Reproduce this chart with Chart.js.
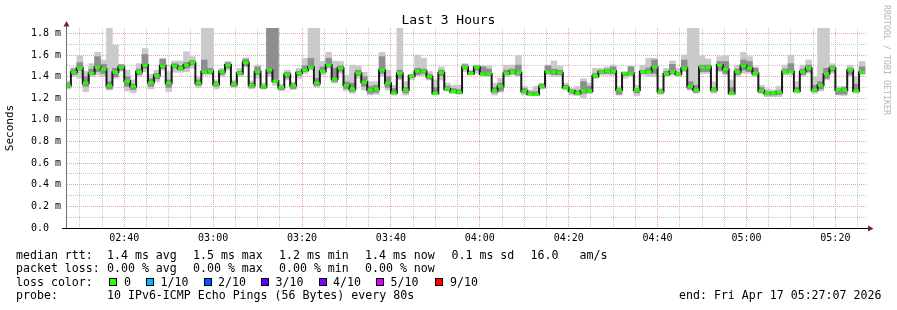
<!DOCTYPE html>
<html>
<head>
<meta charset="utf-8">
<script src="https://cdn.jsdelivr.net/npm/chart.js@4.4.1/dist/chart.umd.min.js"></script>
<style>
html,body{margin:0;padding:0;background:#fff;}
#wrap{position:relative;width:897px;height:310px;overflow:hidden;background:#fff;font-family:'DejaVu Sans Mono',monospace;}
#c{position:absolute;left:0;top:0;}
.t{position:absolute;white-space:pre;font-size:11.6px;line-height:14px;color:#000;font-family:'DejaVu Sans Mono',monospace;}
.box{position:absolute;width:6px;height:6px;border:1px solid #000;top:277.5px;}
#title{position:absolute;left:0;top:11.5px;width:897px;text-align:center;font-size:13px;line-height:16px;color:#000;font-family:'DejaVu Sans Mono',monospace;}
#wm{position:absolute;left:892px;top:5px;transform-origin:0 0;transform:rotate(90deg);font-size:8.3px;line-height:10px;color:#b4b4b4;white-space:pre;font-family:'DejaVu Sans Mono',monospace;}
</style>
</head>
<body>
<div id="wrap">
<canvas id="c" width="897" height="310"></canvas>
<div id="title">Last 3 Hours</div>
<div id="wm">RRDTOOL / TOBI OETIKER</div>

<div class="t" style="left:16px;top:247.5px">median rtt:</div>
<div class="t" style="left:107px;top:247.5px">1.4 ms avg</div>
<div class="t" style="left:193px;top:247.5px">1.5 ms max</div>
<div class="t" style="left:279px;top:247.5px">1.2 ms min</div>
<div class="t" style="left:365px;top:247.5px">1.4 ms now</div>
<div class="t" style="left:451.5px;top:247.5px">0.1 ms sd</div>
<div class="t" style="left:530.5px;top:247.5px">16.0</div>
<div class="t" style="left:579.5px;top:247.5px">am/s</div>

<div class="t" style="left:16px;top:261px">packet loss:</div>
<div class="t" style="left:107px;top:261px">0.00 % avg</div>
<div class="t" style="left:193px;top:261px">0.00 % max</div>
<div class="t" style="left:279px;top:261px">0.00 % min</div>
<div class="t" style="left:365px;top:261px">0.00 % now</div>

<div class="t" style="left:16px;top:274.5px">loss color:</div>
<div id="lossLegend"></div>

<div class="t" style="left:16px;top:288px">probe:</div>
<div class="t" style="left:107px;top:288px">10 IPv6-ICMP Echo Pings (56 Bytes) every 80s</div>
<div class="t" style="left:679px;top:288px">end: Fri Apr 17 05:27:07 2026</div>
</div>

<script>
// ---- time frame (seconds of day) ----
const END_TIME = 19627;          // 05:27:07
const SPAN = 10800;              // last 3 hours
const STEP = 80;                 // seconds per sample
const FIRST_SAMPLE_START = 8800; // 02:26:40

// ---- median rtt per sample (ms) ----
const median = [
1.32,1.44,1.477,1.34,1.43,1.486,1.468,1.317,1.44,1.486,
1.36,1.31,1.446,1.507,1.345,1.41,1.50,1.34,1.50,1.477,
1.507,1.526,1.34,1.446,1.45,1.33,1.446,1.507,1.33,1.43,
1.53,1.32,1.446,1.31,1.46,1.357,1.30,1.42,1.317,1.435,
1.46,1.486,1.34,1.45,1.507,1.375,1.477,1.32,1.286,1.43,
1.348,1.277,1.286,1.46,1.34,1.25,1.43,1.277,1.406,1.45,
1.45,1.40,1.246,1.437,1.286,1.262,1.255,1.486,1.43,1.486,
1.425,1.425,1.268,1.31,1.43,1.446,1.437,1.265,1.24,1.237,
1.31,1.446,1.446,1.437,1.30,1.268,1.246,1.268,1.268,1.406,
1.446,1.45,1.45,1.277,1.43,1.43,1.277,1.446,1.446,1.486,
1.262,1.425,1.446,1.425,1.477,1.31,1.277,1.486,1.486,1.277,
1.507,1.468,1.246,1.446,1.50,1.477,1.43,1.268,1.246,1.246,
1.255,1.446,1.446,1.268,1.446,1.477,1.277,1.32,1.425,1.477,
1.277,1.277,1.46,1.268,1.44];

// ---- smoke: fastest / slowest ping per sample (ms) ----
const smokeMin = [
1.286,1.40,1.385,1.26,1.40,1.415,1.40,1.277,1.385,1.45,
1.268,1.25,1.40,1.446,1.286,1.354,1.46,1.262,1.44,1.44,
1.446,1.477,1.30,1.415,1.415,1.286,1.40,1.46,1.30,1.40,
1.49,1.286,1.385,1.286,1.40,1.32,1.268,1.37,1.28,1.385,
1.43,1.46,1.30,1.415,1.477,1.34,1.43,1.268,1.246,1.385,
1.277,1.23,1.235,1.40,1.277,1.23,1.37,1.23,1.37,1.415,
1.41,1.37,1.23,1.37,1.268,1.246,1.237,1.446,1.415,1.43,
1.40,1.40,1.23,1.255,1.40,1.415,1.40,1.23,1.225,1.225,
1.286,1.415,1.40,1.40,1.277,1.23,1.225,1.206,1.246,1.385,
1.415,1.415,1.41,1.23,1.385,1.40,1.225,1.415,1.40,1.40,
1.237,1.40,1.415,1.40,1.446,1.277,1.246,1.43,1.43,1.246,
1.446,1.415,1.23,1.40,1.43,1.43,1.40,1.246,1.215,1.215,
1.215,1.415,1.415,1.246,1.40,1.43,1.246,1.268,1.37,1.43,
1.23,1.225,1.40,1.246,1.42];
const smokeMax = [
1.36,1.483,1.594,1.45,1.52,1.625,1.554,1.85,1.69,1.514,
1.46,1.37,1.52,1.66,1.42,1.46,1.57,1.446,1.545,1.545,
1.63,1.585,1.40,1.85,1.85,1.37,1.477,1.54,1.37,1.477,
1.575,1.36,1.507,1.34,1.85,1.85,1.33,1.46,1.35,1.477,
1.57,1.85,1.85,1.54,1.625,1.545,1.54,1.41,1.507,1.50,
1.44,1.354,1.354,1.625,1.46,1.32,1.85,1.354,1.42,1.60,
1.57,1.446,1.37,1.49,1.34,1.32,1.32,1.52,1.46,1.507,
1.50,1.50,1.34,1.385,1.507,1.507,1.594,1.31,1.277,1.31,
1.34,1.507,1.545,1.50,1.34,1.29,1.31,1.38,1.34,1.477,
1.477,1.49,1.507,1.31,1.446,1.50,1.32,1.507,1.57,1.57,
1.29,1.477,1.545,1.477,1.60,1.85,1.85,1.594,1.563,1.354,
1.585,1.594,1.37,1.507,1.625,1.585,1.49,1.32,1.286,1.277,
1.31,1.507,1.60,1.354,1.507,1.554,1.40,1.85,1.85,1.52,
1.31,1.31,1.507,1.40,1.54];

// ---- smoke: inner (denser) ping range per sample (ms) ----
const innerMin = [
1.30,1.42,1.46,1.31,1.42,1.446,1.43,1.286,1.40,1.46,
1.31,1.28,1.42,1.477,1.31,1.38,1.477,1.30,1.48,1.46,
1.48,1.51,1.32,1.43,1.43,1.31,1.42,1.48,1.31,1.42,
1.50,1.30,1.42,1.29,1.43,1.35,1.28,1.39,1.29,1.41,
1.45,1.477,1.317,1.44,1.49,1.354,1.45,1.29,1.262,1.41,
1.31,1.246,1.255,1.43,1.30,1.24,1.385,1.25,1.39,1.415,
1.43,1.38,1.24,1.41,1.27,1.25,1.245,1.47,1.42,1.46,
1.415,1.41,1.25,1.27,1.42,1.43,1.415,1.25,1.23,1.23,
1.295,1.43,1.42,1.42,1.29,1.25,1.235,1.246,1.25,1.39,
1.43,1.43,1.43,1.237,1.41,1.415,1.25,1.43,1.43,1.43,
1.245,1.41,1.43,1.41,1.46,1.286,1.255,1.446,1.446,1.26,
1.46,1.43,1.24,1.42,1.46,1.446,1.415,1.25,1.23,1.23,
1.235,1.43,1.446,1.26,1.42,1.446,1.26,1.286,1.385,1.45,
1.237,1.24,1.42,1.26,1.43];
const innerMax = [
1.34,1.47,1.53,1.40,1.47,1.585,1.514,1.354,1.477,1.51,
1.40,1.33,1.47,1.606,1.38,1.43,1.56,1.37,1.52,1.50,
1.53,1.55,1.37,1.554,1.477,1.35,1.46,1.53,1.35,1.45,
1.56,1.34,1.49,1.32,1.85,1.85,1.31,1.44,1.335,1.45,
1.50,1.57,1.385,1.49,1.57,1.477,1.50,1.35,1.34,1.46,
1.40,1.31,1.32,1.585,1.40,1.29,1.46,1.30,1.42,1.477,
1.47,1.42,1.30,1.46,1.31,1.29,1.28,1.51,1.45,1.50,
1.49,1.47,1.30,1.34,1.46,1.47,1.507,1.29,1.26,1.26,
1.33,1.50,1.47,1.46,1.32,1.28,1.27,1.354,1.31,1.43,
1.46,1.47,1.49,1.29,1.44,1.49,1.29,1.46,1.48,1.554,
1.28,1.45,1.514,1.44,1.554,1.354,1.32,1.507,1.507,1.30,
1.54,1.54,1.30,1.47,1.554,1.54,1.477,1.30,1.26,1.26,
1.27,1.47,1.52,1.30,1.47,1.507,1.32,1.354,1.477,1.50,
1.29,1.30,1.48,1.33,1.49];

// ---- axis tick labels ----
const xTickLabels = ['02:40','03:00','03:20','03:40','04:00','04:20','04:40','05:00','05:20'];
const yTickValues = [0,0.2,0.4,0.6,0.8,1.0,1.2,1.4,1.6,1.8];
const yTickLabels = ['0.0  ','0.2 m','0.4 m','0.6 m','0.8 m','1.0 m','1.2 m','1.4 m','1.6 m','1.8 m'];

// ---- loss colour legend ----
const lossLabels = ['0','1/10','2/10','3/10','4/10','5/10','9/10'];
const lossColors = ['#26ff00','#00b8ff','#0059ff','#5e00ff','#7e00ff','#dd00ff','#ff0000'];
const lossBoxX = [108.5,146,203.5,261,318.5,376,434.5];
const lossTextX = [124,160.5,218,275.5,333,390.5,450];

(function buildLossLegend(){
  const host = document.getElementById('lossLegend');
  lossLabels.forEach((lab,i)=>{
    const b = document.createElement('div');
    b.className='box'; b.style.left = lossBoxX[i]+'px'; b.style.background = lossColors[i];
    host.appendChild(b);
    const t = document.createElement('div');
    t.className='t'; t.style.left = lossTextX[i]+'px'; t.style.top='274.5px'; t.textContent = lab;
    host.appendChild(t);
  });
})();

const START_TIME = END_TIME - SPAN;
const sampleTimes = median.map((_,k)=> FIRST_SAMPLE_START + STEP/2 + k*STEP);
const toSec = s => { const p = s.split(':').map(Number); return p[0]*3600 + p[1]*60; };
const xMajor = xTickLabels.map(toSec);
const xAll = [];
for (let t = Math.ceil(START_TIME/300)*300; t <= END_TIME; t += 300) xAll.push(t);
const yAll = [];
for (let i = 0; i <= 18; i++) yAll.push(Math.round(i)/10);

const MAJOR = '#e6a4a4';
const MINOR = '#c6c6c6';
const isYMajor = v => yTickValues.some(m => Math.abs(m - v) < 1e-9);

const axisPlugin = {
  id: 'rrdAxes',
  afterDatasetsDraw(chart) {
    const {ctx, chartArea: a} = chart;
    ctx.save();
    // vertical axis
    ctx.strokeStyle = '#707070'; ctx.lineWidth = 1;
    ctx.beginPath(); ctx.moveTo(a.left - 0.5, a.bottom); ctx.lineTo(a.left - 0.5, a.top - 3); ctx.stroke();
    ctx.fillStyle = '#7f1f1f';
    ctx.beginPath(); ctx.moveTo(a.left - 3.5, a.top - 1.5); ctx.lineTo(a.left + 2.5, a.top - 1.5); ctx.lineTo(a.left - 0.5, a.top - 7); ctx.closePath(); ctx.fill();
    // horizontal axis
    ctx.strokeStyle = '#000';
    ctx.beginPath(); ctx.moveTo(a.left - 5, a.bottom + 0.5); ctx.lineTo(a.right + 2, a.bottom + 0.5); ctx.stroke();
    ctx.beginPath(); ctx.moveTo(a.right + 1, a.bottom + 0.5 - 3); ctx.lineTo(a.right + 1, a.bottom + 0.5 + 3); ctx.lineTo(a.right + 6.5, a.bottom + 0.5); ctx.closePath(); ctx.fill();
    ctx.restore();
  }
};

const pts = arr => sampleTimes.map((t,k)=>({x:t, y:arr[k]}));
const rng = (lo,hi) => sampleTimes.map((t,k)=>({x:t, y:[lo[k], hi[k]]}));

new Chart(document.getElementById('c').getContext('2d'), {
  type: 'bar',
  data: {
    datasets: [
      { type:'bar', data: rng(smokeMin, smokeMax), backgroundColor:'#cacaca', borderWidth:0,
        grouped:false, categoryPercentage:1, barPercentage:1, order:4, clip:0 },
      { type:'bar', data: rng(innerMin, innerMax), backgroundColor:'#8e8e8e', borderWidth:0,
        grouped:false, categoryPercentage:1, barPercentage:1, order:3, clip:0 },
      { type:'line', data: pts(median), stepped:'middle', borderColor:'#1c1c1c', borderWidth:2,
        pointRadius:0, fill:false, order:2 },
      { type:'line', data: pts(median), showLine:false, pointStyle:'line', pointRadius:2.8,
        pointBorderWidth:3, pointBorderColor:'#26ff00', pointBackgroundColor:'#26ff00', order:1 }
    ]
  },
  options: {
    responsive:false, animation:false, devicePixelRatio:1,
    layout:{ padding:{ left:0, right:30, top:28, bottom:0 } },
    plugins:{ legend:{display:false}, tooltip:{enabled:false}, title:{display:false} },
    scales:{
      x:{
        type:'linear', min:START_TIME, max:END_TIME, offset:false,
        grid:{ offset:false, drawTicks:false, lineWidth:1,
               color: c => (c.tick && xMajor.includes(c.tick.value)) ? MAJOR : MINOR },
        border:{ display:false, dash:[1,1] },
        afterBuildTicks: s => { s.ticks = xAll.map(v=>({value:v})); },
        ticks:{ autoSkip:false, maxRotation:0, minRotation:0, padding:4, color:'#000',
                font:{ family:'DejaVu Sans Mono', size:10 },
                callback: v => { const i = xMajor.indexOf(v); return i >= 0 ? xTickLabels[i] : ''; } },
        afterFit: s => { s.height = 82; }
      },
      y:{
        type:'linear', min:0, max:1.85,
        grid:{ drawTicks:false, lineWidth:1,
               color: c => (c.tick && isYMajor(c.tick.value)) ? MAJOR : MINOR },
        border:{ display:false, dash:[1,1] },
        afterBuildTicks: s => { s.ticks = yAll.map(v=>({value:v})); },
        ticks:{ autoSkip:false, padding:6, color:'#000',
                font:{ family:'DejaVu Sans Mono', size:10 },
                callback: v => { const i = yTickValues.findIndex(m => Math.abs(m - v) < 1e-9); return i >= 0 ? yTickLabels[i] : ''; } },
        title:{ display:true, text:'Seconds', color:'#000', padding:{top:4,bottom:4},
                font:{ family:'DejaVu Sans Mono', size:11 } },
        afterFit: s => { s.width = 67; }
      }
    }
  },
  plugins:[axisPlugin]
});
</script>
</body>
</html>
